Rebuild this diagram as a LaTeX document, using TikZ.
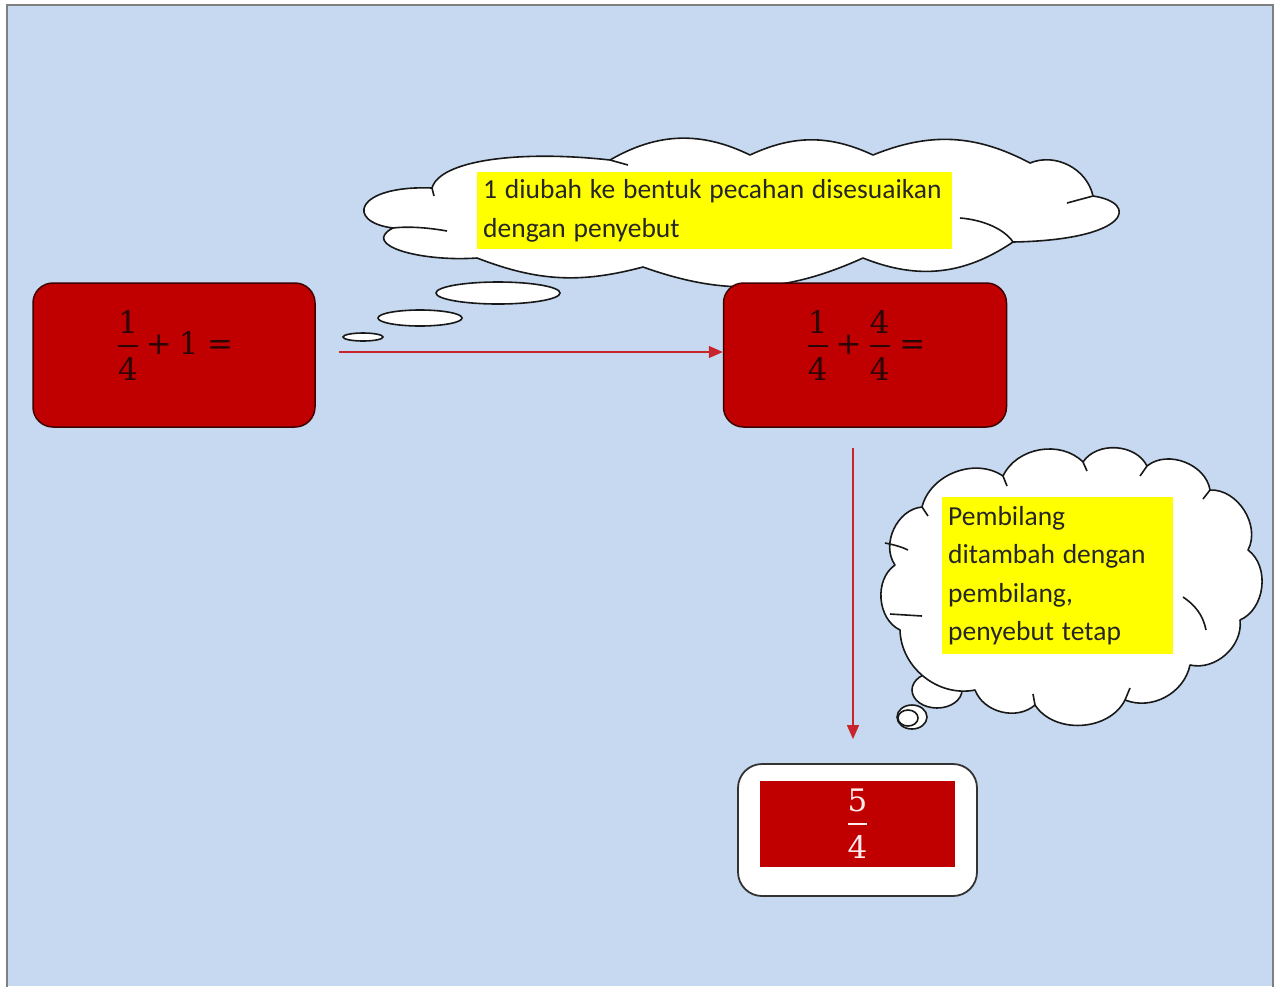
\RequirePackage{fix-cm}
\documentclass[tikz,border=0pt]{standalone}
\usepackage{fontspec}
\setmainfont{DejaVu Serif}
\newfontfamily\calfont{Carlito}
\usetikzlibrary{shapes.geometric,arrows.meta}
\definecolor{bgblue}{HTML}{C6D9F0}
\definecolor{boxred}{HTML}{C00000}
\definecolor{arrowred}{HTML}{C8242B}
\definecolor{framegray}{HTML}{7F7F7F}
\definecolor{darktxt}{HTML}{2A0505}
\definecolor{hiyellow}{HTML}{FFFF00}
\newcommand\fracx[2]{{\mbox{#1}\above 2pt\mbox{\rule{0pt}{27pt}#2}}}
\newcommand\plusx{\mathbin{\mbox{+}}}
\newcommand\eqx{\mathrel{\mbox{=}}}
\newcommand\tightsp{\spaceskip=0.284em plus 0.05em\relax}
\begin{document}
\begin{tikzpicture}[x=1pt,y=-1pt,
  redbox/.style={draw=black!75!red, line width=1.5pt, fill=boxred, rounded corners=20pt, inner sep=0pt},
  whitebox/.style={draw=black!80, line width=1.8pt, fill=white, rounded corners=24pt, inner sep=0pt},
  mathtxt/.style={inner sep=0pt, anchor=base, text=darktxt, font=\fontsize{31}{36}\selectfont},
  arr/.style={draw=arrowred, line width=1.5pt, -{Triangle[length=14pt,width=12pt]}},
  cloudline/.style={draw=black!90, line width=1.6pt, line join=round},
  bubble/.style={draw=black!90, fill=white, line width=1.6pt, ellipse, inner sep=0pt},
  note/.style={fill=hiyellow, anchor=north west, align=left, inner xsep=6pt, inner ysep=6pt, text=black!85,
    font=\calfont\fontsize{27.5}{38.5}\selectfont}
]
\useasboundingbox (0,0) rectangle (1281,986);
% background frame
\fill[white] (0,0) rectangle (1281,986);
\fill[bgblue] (7,5) rectangle (1273,986);
\draw[framegray, line width=2pt] (7,990) -- (7,5) -- (1273,5) -- (1273,990);

% thought cloud 1
\path[cloudline, fill=white] (393,228) .. controls (345,222) and (355,185) .. (432,188)
  .. controls (440,160) and (520,150) .. (610,160)
  to[bend left=28] (750,155)
  to[bend left=25] (873,155)
  to[bend left=25] (1030,163)
  to[bend left=50] (1093,196)
  .. controls (1140,203) and (1130,240) .. (1013,242)
  to[bend left=28] (863,258)
  to[bend left=22] (643,267)
  to[bend left=18] (477,258)
  .. controls (420,262) and (360,245) .. (393,228) -- cycle;
\draw[cloudline] (393,228) .. controls (410,226) and (430,228) .. (447,231);
\draw[cloudline] (610,160) -- (628,165);
\draw[cloudline] (960,218) .. controls (985,220) and (1005,230) .. (1013,242);
\draw[cloudline] (1067,203) -- (1093,196);
\draw[cloudline] (432,188) -- (434,196);
% bubbles of cloud 1
\node[bubble, minimum width=124pt, minimum height=22pt] (e1) at (498,293) {};
\node[bubble, minimum width=84pt, minimum height=16pt] (e2) at (420,318) {};
\node[bubble, minimum width=40pt, minimum height=8pt] (e3) at (363,337) {};
\node[note, text width=463pt, minimum height=77pt] (n1) at (477,172)
  {\tightsp\mbox{1 diubah ke bentuk pecahan disesuaikan}\\\mbox{dengan penyebut}};

% thought cloud 2
\node[bubble, minimum width=50pt, minimum height=36pt] (e4) at (937,690) {};
\path[cloudline, fill=white] (922,507) to[bend left=55] (1003,476)
  to[bend left=55] (1083,462)
  to[bend left=60] (1147,466)
  to[bend left=60] (1210,490)
  to[bend left=60] (1248,550)
  to[bend left=60] (1240,620)
  to[bend left=55] (1190,665)
  to[bend left=50] (1125,700)
  to[bend left=60] (1035,705)
  to[bend left=55] (975,690)
  to[bend left=50] (900,630)
  to[bend left=60] (895,565)
  to[bend left=60] (922,507) -- cycle;
\draw[cloudline] (922,507) -- (928,516);
\draw[cloudline] (1003,476) -- (1007,486);
\draw[cloudline] (1083,462) -- (1087,471);
\draw[cloudline] (1147,466) -- (1140,476);
\draw[cloudline] (1210,490) -- (1203,499);
\draw[cloudline] (1183,597) .. controls (1195,605) and (1203,615) .. (1206,630);
\draw[cloudline] (1125,700) -- (1130,688);
\draw[cloudline] (1035,705) -- (1033,694);
\draw[cloudline] (885,543) .. controls (895,545) and (902,547) .. (908,550);
\draw[cloudline] (890,614) -- (922,616);
\node[bubble, minimum width=30pt, minimum height=24pt] (e5) at (912,717) {};
\node[bubble, minimum width=20pt, minimum height=16pt] (e6) at (908,718) {};
\node[note, text width=219pt, minimum height=157pt] (n2) at (942,497)
  {\tightsp Pembilang\\ditambah dengan\\pembilang,\\penyebut tetap};

% red boxes
\node[redbox, minimum width=282pt, minimum height=144pt] (b1) at (174,355) {};
\node[mathtxt] (t1) at (175,354) {$\displaystyle\fracx{1}{4}\plusx\mbox{1}\eqx$};
\node[redbox, minimum width=283pt, minimum height=144pt] (b2) at (865,355) {};
\node[mathtxt] (t2) at (866,354) {$\displaystyle\fracx{1}{4}\plusx\fracx{4}{4}\eqx$};

% result box
\node[whitebox, minimum width=239pt, minimum height=132pt] (b3) at (857.5,830) {};
\node[fill=boxred, minimum width=195pt, minimum height=86pt, inner sep=0pt] (b3in) at (857.5,824) {};
\node[mathtxt, text=white!92!red] (t3) at (857.5,832) {$\displaystyle\fracx{5}{4}$};

% arrows
\draw[arr] ([xshift=23pt,yshift=3pt]b1.east) -- ([yshift=3pt]b2.west);
\coordinate (a2s) at ([xshift=-12pt,yshift=-20pt]b2.south);
\coordinate (b3top) at ([yshift=24pt]b3.north);
\draw[arr] (a2s) -- (a2s |- b3top);
\end{tikzpicture}
\end{document}
